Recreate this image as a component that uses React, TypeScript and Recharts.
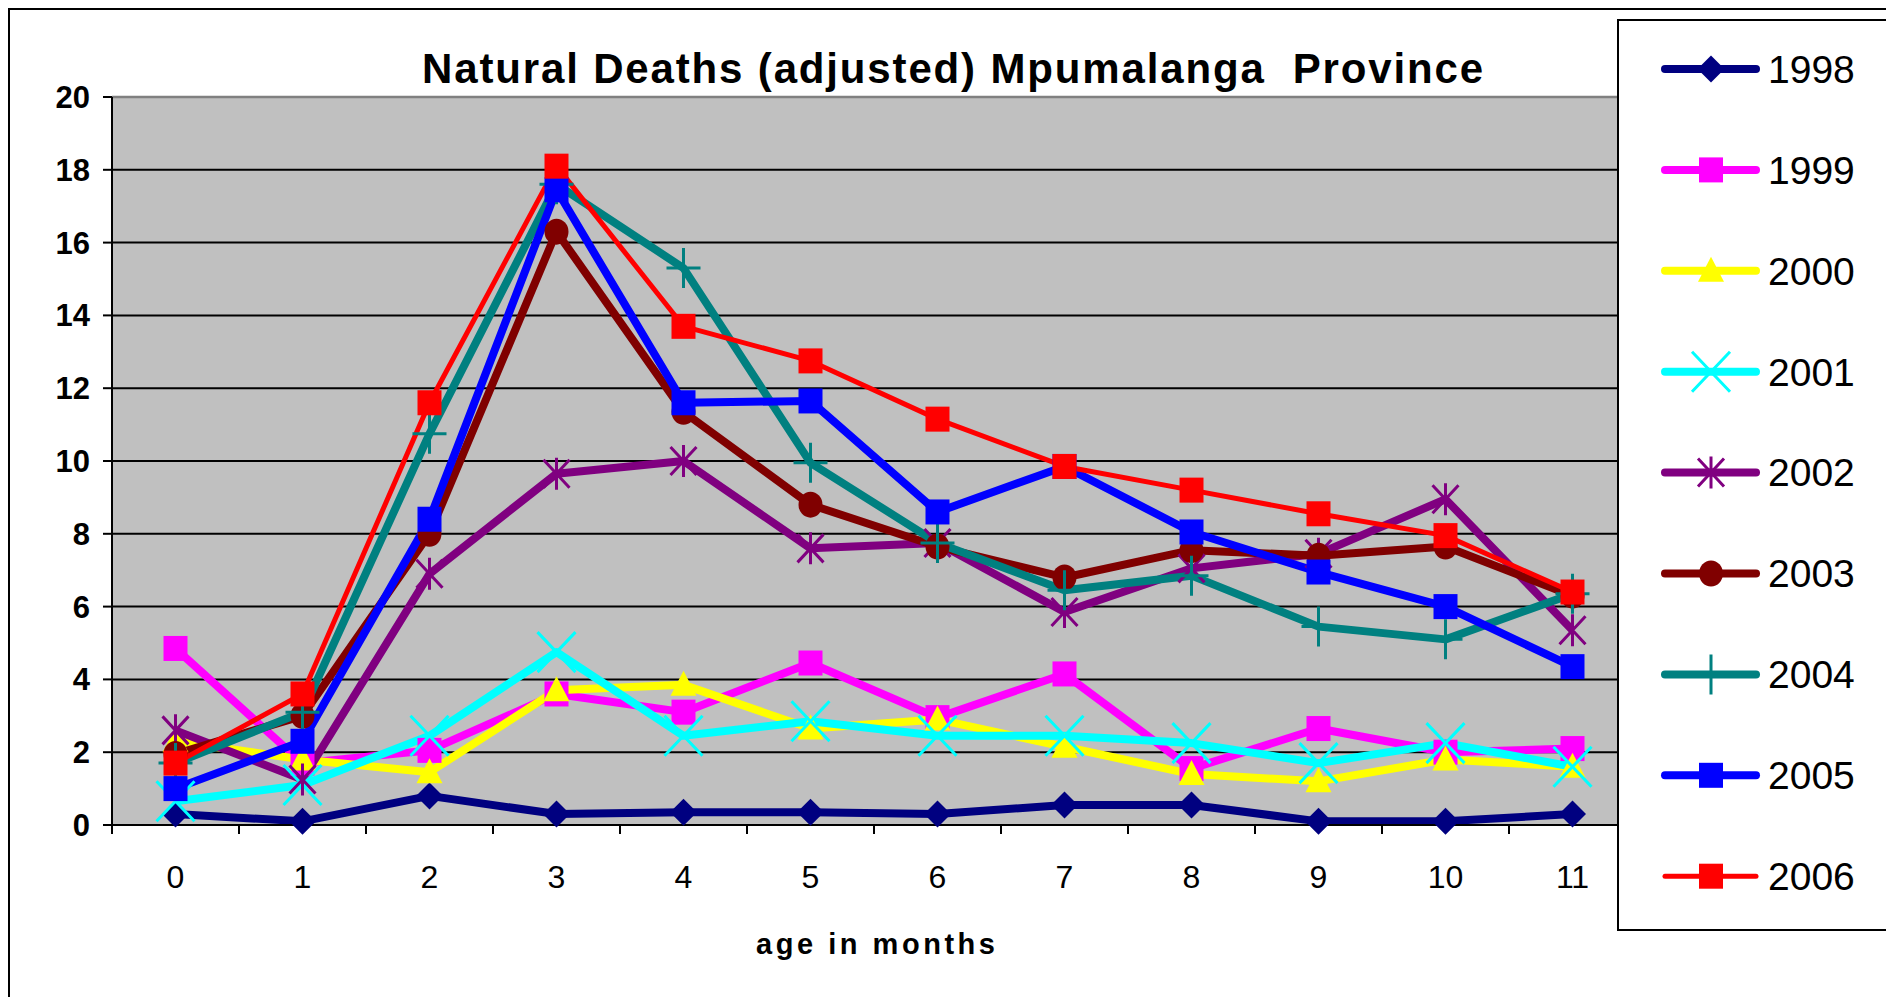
import React from 'react';
import { LineChart, Line, XAxis, YAxis, CartesianGrid, Legend, ReferenceLine } from 'recharts';

// ---------- data ----------
const months = ['0', '1', '2', '3', '4', '5', '6', '7', '8', '9', '10', '11'];
const seriesNames = ['1998', '1999', '2000', '2001', '2002', '2003', '2004', '2005', '2006'];
const s1998 = [0.3, 0.1, 0.8, 0.3, 0.35, 0.35, 0.3, 0.55, 0.55, 0.1, 0.1, 0.3];
const s1999 = [4.85, 1.7, 2.05, 3.6, 3.1, 4.45, 2.95, 4.15, 1.55, 2.65, 2.0, 2.1];
const s2000 = [2.3, 1.8, 1.45, 3.7, 3.85, 2.65, 2.9, 2.15, 1.4, 1.2, 1.8, 1.6];
const s2001 = [0.65, 1.1, 2.45, 4.75, 2.45, 2.85, 2.45, 2.45, 2.25, 1.7, 2.25, 1.6];
const s2002 = [2.6, 1.25, 6.9, 9.65, 10.0, 7.6, 7.75, 5.85, 7.05, 7.45, 8.95, 5.35];
const s2003 = [1.95, 3.0, 8.0, 16.3, 11.35, 8.8, 7.65, 6.8, 7.55, 7.4, 7.65, 6.3];
const s2004 = [1.7, 3.1, 10.75, 17.6, 15.3, 9.95, 7.75, 6.45, 6.85, 5.45, 5.1, 6.35];
const s2005 = [1.0, 2.3, 8.4, 17.45, 11.6, 11.65, 8.6, 9.85, 8.05, 6.95, 6.0, 4.35];
const s2006 = [1.7, 3.6, 11.6, 18.1, 13.7, 12.75, 11.15, 9.85, 9.2, 8.55, 7.95, 6.4];
const seriesValues = [s1998, s1999, s2000, s2001, s2002, s2003, s2004, s2005, s2006];
const yTicks = [0, 2, 4, 6, 8, 10, 12, 14, 16, 18, 20];
const titleText = 'Natural Deaths (adjusted) Mpumalanga  Province';
const xTitleText = 'age in months';

const data = months.map((m, i) => {
  const row: Record<string, any> = { month: m };
  seriesNames.forEach((n, k) => {
    row[n] = seriesValues[k][i];
  });
  return row;
});

// ---------- styles ----------
const colors = ['#000080', '#FF00FF', '#FFFF00', '#00FFFF', '#800080', '#800000', '#008080', '#0000FF', '#FF0000'];
const shapes = ['diamond', 'square', 'triangle', 'x', 'star', 'circle', 'plus', 'square', 'square'];
const widths = [8, 8, 8, 8, 8, 8, 8, 8, 5];
const FONT = 'Arial, "Liberation Sans", sans-serif';

const CHART_W = 1878;
const CHART_H = 990;
const PLOT_L = 102;
const PLOT_R = 1626;
const PLOT_T = 87;
const PLOT_B = 815;
const X_AXIS_H = 60;
const HALF_BAND = (PLOT_R - PLOT_L) / months.length / 2;

function Marker({ shape, cx, cy, color }: { shape: string; cx: number; cy: number; color: string }) {
  if (cx == null || cy == null) return null;
  switch (shape) {
    case 'diamond':
      return <polygon points={`${cx},${cy - 13.5} ${cx + 13.5},${cy} ${cx},${cy + 13.5} ${cx - 13.5},${cy}`} fill={color} />;
    case 'square':
      return <rect x={cx - 12} y={cy - 12.5} width={24} height={25} fill={color} />;
    case 'triangle':
      return <polygon points={`${cx},${cy - 14} ${cx + 13},${cy + 11} ${cx - 13},${cy + 11}`} fill={color} />;
    case 'x':
      return (
        <path
          d={`M${cx - 19},${cy - 20}L${cx + 19},${cy + 20}M${cx + 19},${cy - 20}L${cx - 19},${cy + 20}`}
          stroke={color}
          strokeWidth={3}
          fill="none"
        />
      );
    case 'star':
      return (
        <path
          d={`M${cx - 13},${cy - 14}L${cx + 13},${cy + 14}M${cx + 13},${cy - 14}L${cx - 13},${cy + 14}M${cx},${cy - 16}V${cy + 16}`}
          stroke={color}
          strokeWidth={3}
          fill="none"
        />
      );
    case 'circle':
      return <ellipse cx={cx} cy={cy} rx={12} ry={13} fill={color} />;
    case 'plus':
      return (
        <path d={`M${cx - 17},${cy}H${cx + 17}M${cx},${cy - 20}V${cy + 20}`} stroke={color} strokeWidth={3} fill="none" />
      );
    default:
      return null;
  }
}

function makeDot(k: number) {
  return (p: any) => (
    <g key={`dot-${seriesNames[k]}-${p.index}`}>
      <Marker shape={shapes[k]} cx={p.cx} cy={p.cy} color={colors[k]} />
    </g>
  );
}

function XTick(props: any) {
  const { x, y, payload } = props;
  return (
    <g>
      <line x1={x - HALF_BAND} x2={x - HALF_BAND} y1={y} y2={y + 9} stroke="#000" strokeWidth={2} />
      <text x={x} y={y + 40} dy="0.71em" textAnchor="middle" fontSize={32} fontFamily={FONT} fill="#000">
        {payload.value}
      </text>
    </g>
  );
}

const LEG_W = 271;
const LEG_H = 912;

function LegendBox(props: any) {
  const payload = props.payload || [];
  return (
    <div
      style={{
        width: LEG_W,
        height: LEG_H,
        border: '2px solid #000',
        background: '#fff',
        boxSizing: 'border-box',
      }}
    >
      <svg width={LEG_W - 4} height={LEG_H - 4} style={{ display: 'block' }}>
        {payload.map((entry: any, i: number) => {
          const k = seriesNames.indexOf(String(entry.value));
          const cy = 48 + i * 100.9;
          return (
            <g key={`leg-${entry.value}`}>
              <line
                x1={46}
                x2={137}
                y1={cy}
                y2={cy}
                stroke={colors[k]}
                strokeWidth={widths[k]}
                strokeLinecap="round"
              />
              <Marker shape={shapes[k]} cx={92} cy={cy} color={colors[k]} />
              <text x={149} y={cy} dy="0.355em" fontSize={39} fontFamily={FONT} fill="#000">
                {entry.value}
              </text>
            </g>
          );
        })}
      </svg>
    </div>
  );
}

export default function App() {
  return (
    <div
      style={{
        position: 'relative',
        width: 1882,
        height: 1000,
        border: '2px solid #000',
        borderBottom: 'none',
        boxSizing: 'border-box',
        background: '#fff',
      }}
    >
      <LineChart
        width={CHART_W}
        height={CHART_H}
        data={data}
        margin={{ top: PLOT_T, right: CHART_W - PLOT_R, bottom: CHART_H - PLOT_B - X_AXIS_H, left: 0 }}
      >
        <CartesianGrid
          vertical={false}
          horizontalValues={yTicks.filter((t) => t !== 0 && t !== 20)}
          stroke="#000"
          strokeWidth={2}
          fill="#C0C0C0"
          fillOpacity={1}
        />
        <ReferenceLine y={20} stroke="#808080" strokeWidth={2.5} />
        <XAxis
          dataKey="month"
          interval={0}
          height={X_AXIS_H}
          padding={{ left: HALF_BAND, right: HALF_BAND }}
          axisLine={{ stroke: '#000', strokeWidth: 2 }}
          tickLine={false}
          tickSize={0}
          tickMargin={0}
          tick={<XTick />}
        />
        <YAxis
          width={PLOT_L}
          domain={[0, 20]}
          ticks={yTicks}
          interval={0}
          axisLine={{ stroke: '#000', strokeWidth: 2 }}
          tickLine={{ stroke: '#000', strokeWidth: 2 }}
          tickSize={9}
          tickMargin={13}
          tick={{ fill: '#000', fontSize: 31, fontWeight: 'bold', fontFamily: FONT }}
        />
        {seriesNames.map((n, k) => (
          <Line
            key={n}
            type="linear"
            dataKey={n}
            name={n}
            stroke={colors[k]}
            strokeWidth={widths[k]}
            strokeLinejoin="round"
            dot={makeDot(k)}
            activeDot={false}
            isAnimationActive={false}
          />
        ))}
        <Legend
          layout="horizontal"
          verticalAlign="middle"
          align="center"
          wrapperStyle={{ position: 'absolute', left: 1607, top: 9, width: LEG_W, height: LEG_H }}
          content={<LegendBox />}
        />
      </LineChart>
      <svg
        width={CHART_W}
        height={CHART_H}
        style={{ position: 'absolute', left: 0, top: 0, pointerEvents: 'none' }}
      >
        <text
          x={942.5}
          y={73}
          textAnchor="middle"
          fontSize={42}
          fontWeight="bold"
          fontFamily={FONT}
          textLength={1061}
          lengthAdjust="spacing"
          style={{ whiteSpace: 'pre' }}
          fill="#000"
        >
          {titleText}
        </text>
        <text
          x={865.5}
          y={944}
          textAnchor="middle"
          fontSize={29}
          fontWeight="bold"
          fontFamily={FONT}
          textLength={239}
          lengthAdjust="spacing"
          fill="#000"
        >
          {xTitleText}
        </text>
      </svg>
    </div>
  );
}
